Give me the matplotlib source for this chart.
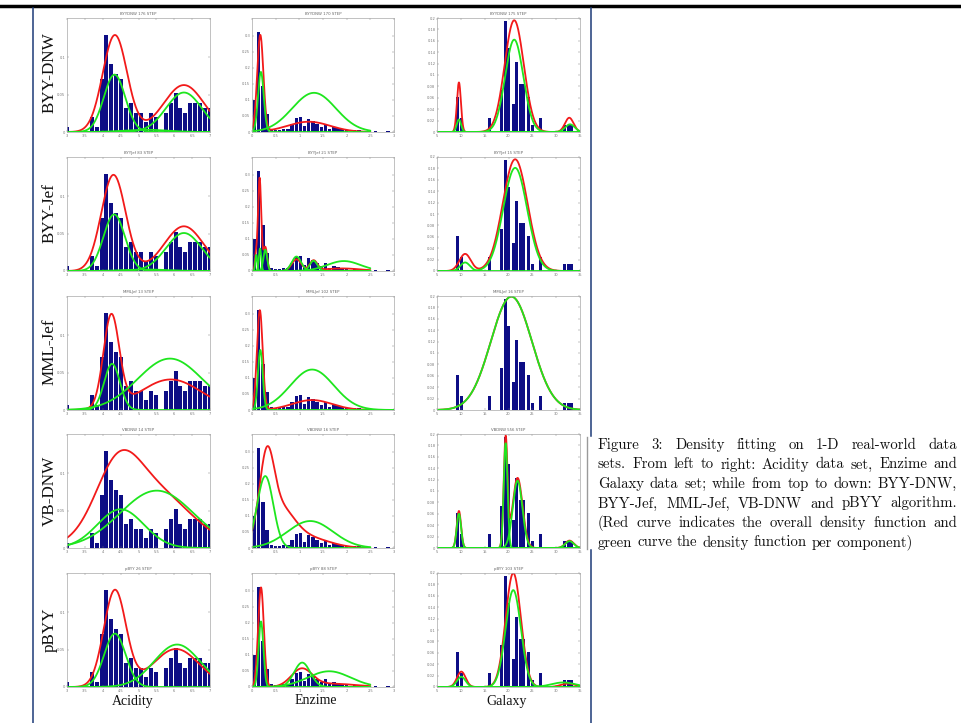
import numpy as np
import matplotlib
matplotlib.use('Agg')
import matplotlib.pyplot as plt
from matplotlib.lines import Line2D

# ---------------- data ----------------
METHODS = ['BYY-DNW', 'BYY-Jef', 'MML-Jef', 'VB-DNW', 'pBYY']
DATASETS = ['Acidity', 'Enzime', 'Galaxy']
PANEL_TITLES = [
    ['BYYDNW 176 STEP', 'BYYDNW 170 STEP', 'BYYDNW 175 STEP'],
    ['BYYJef 83 STEP', 'BYYJef 21 STEP', 'BYYJef 15 STEP'],
    ['MMLJef 13 STEP', 'MMLJef 102 STEP', 'MMLJef 16 STEP'],
    ['VBDNW 14 STEP', 'VBDNW 16 STEP', 'VBDNW 556 STEP'],
    ['pBYY 26 STEP', 'pBYY 88 STEP', 'pBYY 103 STEP'],
]

# histogram bars (normalised heights)
ACID_BIN_START = 2.931
ACID_BIN_WIDTH = 0.138
ACID_HEIGHTS = [0.0067, 0, 0, 0, 0, 0.020, 0.0067, 0.071, 0.130, 0.0915,
                0.078, 0.071, 0.0326, 0.039, 0.026, 0.026, 0.0134, 0.026, 0.020, 0,
                0.026, 0.039, 0.052, 0.0326, 0.026, 0.039, 0.039, 0.039, 0.0326, 0.0326]

ENZ_BIN_START = 0.009
ENZ_BIN_WIDTH = 0.0882
ENZ_HEIGHTS = [0.0985, 0.311, 0.143, 0.055, 0.010, 0.005, 0.005, 0.010, 0.010, 0.025,
               0.045, 0.048, 0.020, 0.040, 0.035, 0.025, 0.015, 0.025, 0.008, 0.015,
               0.012, 0.010, 0.005, 0, 0.005, 0.005, 0, 0.003, 0, 0.003, 0, 0, 0.003]

GAL_X = [9.35, 10.1, 16.0, 18.45, 19.3, 20.05, 20.95, 21.75, 22.5, 23.15,
         24.2, 24.95, 26.8, 31.8, 32.5, 33.2]
GAL_HEIGHTS = [0.0606, 0.0247, 0.0247, 0.0735, 0.195, 0.147, 0.0488, 0.122, 0.085, 0.085,
               0.0606, 0.012, 0.0247, 0.012, 0.012, 0.012]
GAL_BAR_WIDTH = 0.62

# fitted mixture components (amplitude, mean, sigma)
ACID_RED = {
    'BYY-DNW': [(0.130, 4.34, 0.34), (0.063, 6.27, 0.57)],
    'BYY-Jef': [(0.129, 4.30, 0.34), (0.060, 6.27, 0.55)],
    'MML-Jef': [(0.123, 4.24, 0.22), (0.041, 5.90, 0.85)],
    'VB-DNW': [(0.070, 4.40, 0.60), (0.080, 5.30, 1.10)],
    'pBYY': [(0.129, 4.34, 0.31), (0.051, 6.05, 0.65)],
}
ACID_GREEN = {
    'BYY-DNW': [(0.077, 4.33, 0.30), (0.053, 6.27, 0.50), (0.003, 5.2, 0.6)],
    'BYY-Jef': [(0.076, 4.32, 0.30), (0.051, 6.27, 0.50), (0.002, 5.2, 0.6)],
    'MML-Jef': [(0.062, 4.26, 0.22), (0.069, 5.88, 0.90)],
    'VB-DNW': [(0.052, 4.50, 0.65), (0.077, 5.51, 1.03)],
    'pBYY': [(0.0717, 4.34, 0.30), (0.057, 6.08, 0.64)],
}
ENZ_RED = {
    'BYY-DNW': [(0.300, 0.175, 0.065), (0.032, 1.20, 0.45)],
    'BYY-Jef': [(0.290, 0.160, 0.035), (0.040, 0.08, 0.02), (0.075, 0.28, 0.04),
                (0.036, 0.94, 0.10), (0.031, 1.30, 0.08), (0.008, 1.90, 0.40)],
    'MML-Jef': [(0.310, 0.165, 0.060), (0.031, 1.27, 0.42)],
    'VB-DNW': [(0.220, 0.31, 0.15), (0.120, 0.55, 0.32), (0.030, 1.20, 0.45)],
    'pBYY': [(0.310, 0.19, 0.060), (0.054, 1.05, 0.22), (0.010, 1.70, 0.50)],
}
ENZ_GREEN = {
    'BYY-DNW': [(0.187, 0.188, 0.060), (0.122, 1.31, 0.46)],
    'BYY-Jef': [(0.050, 0.09, 0.02), (0.070, 0.17, 0.025), (0.066, 0.28, 0.04),
                (0.045, 0.94, 0.10), (0.032, 1.30, 0.08), (0.031, 1.94, 0.35)],
    'MML-Jef': [(0.187, 0.176, 0.050), (0.126, 1.27, 0.46)],
    'VB-DNW': [(0.224, 0.28, 0.17), (0.084, 1.23, 0.48)],
    'pBYY': [(0.204, 0.19, 0.050), (0.076, 1.06, 0.17), (0.049, 1.63, 0.45)],
}
GAL_RED = {
    'BYY-DNW': [(0.087, 9.6, 0.42), (0.196, 21.2, 2.0), (0.025, 32.75, 0.9)],
    'BYY-Jef': [(0.030, 10.9, 1.2), (0.196, 21.4, 2.6)],
    'MML-Jef': [(0.199, 20.6, 4.3)],
    'VB-DNW': [(0.065, 9.6, 0.45), (0.190, 19.4, 0.40), (0.123, 21.9, 1.05), (0.013, 32.8, 0.9)],
    'pBYY': [(0.027, 10.1, 0.9), (0.200, 21.0, 1.6), (0.006, 32.5, 1.5)],
}
GAL_GREEN = {
    'BYY-DNW': [(0.022, 9.6, 0.45), (0.162, 21.2, 1.9), (0.0135, 32.9, 1.0)],
    'BYY-Jef': [(0.015, 10.9, 1.0), (0.181, 21.4, 2.5)],
    'MML-Jef': [(0.199, 20.6, 4.3)],
    'VB-DNW': [(0.060, 9.6, 0.45), (0.184, 19.4, 0.40), (0.118, 21.9, 1.0), (0.012, 32.8, 0.9)],
    'pBYY': [(0.018, 10.1, 0.9), (0.170, 21.0, 1.6), (0.008, 31.5, 2.5)],
}

ACID_XTICKS = [3, 3.5, 4, 4.5, 5, 5.5, 6, 6.5, 7]
ACID_XLABELS = ['3', '3.5', '4', '4.5', '5', '5.5', '6', '6.5', '7']
ACID_YTICKS = [0, 0.05, 0.1]
ACID_YLABELS = ['0', '0.05', '0.1']
ENZ_XTICKS = [0, 0.5, 1, 1.5, 2, 2.5, 3]
ENZ_XLABELS = ['0', '0.5', '1', '1.5', '2', '2.5', '3']
ENZ_YTICKS = [0, 0.05, 0.1, 0.15, 0.2, 0.25, 0.3]
ENZ_YLABELS = ['0', '0.05', '0.1', '0.15', '0.2', '0.25', '0.3']
GAL_XTICKS = [5, 10, 15, 20, 25, 30, 35]
GAL_XLABELS = ['5', '10', '15', '20', '25', '30', '35']
GAL_YTICKS = [0, 0.02, 0.04, 0.06, 0.08, 0.1, 0.12, 0.14, 0.16, 0.18, 0.2]
GAL_YLABELS = ['0', '0.02', '0.04', '0.06', '0.08', '0.1', '0.12', '0.14', '0.16', '0.18', '0.2']

CAPTION_LINES = [
    'Figure 3:  Density fitting on 1-D real-world data',
    'sets. From left to right: Acidity data set, Enzime and',
    'Galaxy data set; while from top to down: BYY-DNW,',
    'BYY-Jef, MML-Jef, VB-DNW and pBYY algorithm.',
    '(Red curve indicates the overall density function and',
    'green curve the density function per component)',
]

# ---------------- layout ----------------
W, H = 962, 723
fig = plt.figure(figsize=(W / 100, H / 100), dpi=100)
fig.patch.set_facecolor('white')


def fx(p):
    return p / W


def fy(p):
    return 1 - p / H


COL_X = [(67, 210), (252, 394), (437, 580)]
ROW_TOP = [18, 157, 296, 434, 573]
PANEL_H = 114

BAR_COLOR = '#0d0d85'
RED = '#f21a1a'
GREEN = '#1ee61e'
FRAME = '#a8a8a8'


def mixture(x, comps):
    y = np.zeros_like(x)
    for a, m, s in comps:
        y = y + a * np.exp(-0.5 * ((x - m) / s) ** 2)
    return y


for r, meth in enumerate(METHODS):
    for c, ds in enumerate(DATASETS):
        l, rr = COL_X[c]
        t = ROW_TOP[r]
        ax = fig.add_axes([fx(l), fy(t + PANEL_H), (rr - l) / W, PANEL_H / H])
        if ds == 'Acidity':
            centers = ACID_BIN_START + ACID_BIN_WIDTH * (np.arange(len(ACID_HEIGHTS)) + 0.5)
            ax.bar(centers, ACID_HEIGHTS, width=ACID_BIN_WIDTH * 0.82, color=BAR_COLOR, lw=0)
            xlim = (3, 7)
            ylim = (0, 0.153)
            xt, xl, yt, yl = ACID_XTICKS, ACID_XLABELS, ACID_YTICKS, ACID_YLABELS
            reds, greens = ACID_RED[meth], ACID_GREEN[meth]
        elif ds == 'Enzime':
            centers = ENZ_BIN_START + ENZ_BIN_WIDTH * (np.arange(len(ENZ_HEIGHTS)) + 0.5)
            ax.bar(centers, ENZ_HEIGHTS, width=ENZ_BIN_WIDTH * 0.82, color=BAR_COLOR, lw=0)
            xlim = (0, 3) if meth == 'MML-Jef' else (0, 2.5)
            ylim = (0, 0.355)
            xt, xl, yt, yl = ENZ_XTICKS, ENZ_XLABELS, ENZ_YTICKS, ENZ_YLABELS
            reds, greens = ENZ_RED[meth], ENZ_GREEN[meth]
        else:
            ax.bar(GAL_X, GAL_HEIGHTS, width=GAL_BAR_WIDTH, color=BAR_COLOR, lw=0)
            xlim = (5, 35)
            ylim = (0, 0.2)
            xt, xl, yt, yl = GAL_XTICKS, GAL_XLABELS, GAL_YTICKS, GAL_YLABELS
            reds, greens = GAL_RED[meth], GAL_GREEN[meth]

        xs = np.linspace(xlim[0], xlim[1], 600)
        ax.plot(xs, mixture(xs, reds), color=RED, lw=1.3, solid_capstyle='round')
        for comp in greens:
            ax.plot(xs, mixture(xs, [comp]), color=GREEN, lw=1.3, solid_capstyle='round')

        ax.set_xlim(*xlim)
        ax.set_ylim(*ylim)
        ax.set_xticks(xt)
        ax.set_xticklabels(xl)
        ax.set_yticks(yt)
        ax.set_yticklabels(yl)
        ax.tick_params(direction='in', length=1.5, width=0.3, labelsize=2.6,
                       colors='#777777', pad=1.2, top=True, right=True)
        for sp in ax.spines.values():
            sp.set_color(FRAME)
            sp.set_linewidth(0.5)
        ax.set_title(PANEL_TITLES[r][c], fontsize=2.8, color='#666666', pad=2)

# row labels
ROW_LABEL_Y = [73, 213, 352, 491, 630]
for name, yc in zip(METHODS, ROW_LABEL_Y):
    fig.text(fx(50), fy(yc), name, rotation=90, ha='center', va='center',
             fontsize=12.3, family='Liberation Serif', color='#111111')

# column labels
COL_LABEL_X = [133, 316, 507]
for name, xc in zip(DATASETS, COL_LABEL_X):
    fig.text(fx(xc), fy(701), name, ha='center', va='center',
             fontsize=10, family='Liberation Serif', color='#111111')

# page decorations
fig.add_artist(Line2D([0, 1], [fy(5.5), fy(5.5)], color='black', lw=2.5))
fig.add_artist(Line2D([fx(32.5), fx(32.5)], [fy(8), 0], color='#1d3b78', lw=1.1))
fig.add_artist(Line2D([fx(591), fx(591)], [fy(8), fy(436)], color='#1d3b78', lw=1.1))
fig.add_artist(Line2D([fx(587), fx(587)], [fy(437), fy(549)], color='#9a9a9a', lw=1.0))
fig.add_artist(Line2D([fx(591), fx(591)], [fy(550), 0], color='#1d3b78', lw=1.1))

# caption (justified)
renderer = fig.canvas.get_renderer()
CAP_FONT = 'cmr10'
probe = fig.text(0, 0, CAPTION_LINES[-1], fontsize=10, family=CAP_FONT)
wprobe = probe.get_window_extent(renderer).width
probe.remove()
cap_fs = 10 * 316.0 / wprobe

X0, X1 = 598, 957
BASELINES = [449, 468.5, 488, 507.5, 527, 546.5]
for i, (line, yb) in enumerate(zip(CAPTION_LINES, BASELINES)):
    words = line.split()
    arts = [fig.text(0, fy(yb), w, fontsize=cap_fs, family=CAP_FONT, va='baseline',
                     color='#111111') for w in words]
    widths = [a.get_window_extent(renderer).width for a in arts]
    if i < len(CAPTION_LINES) - 1:
        gap = (X1 - X0 - sum(widths)) / (len(words) - 1)
    else:
        gap = (913 - X0 - sum(widths)) / (len(words) - 1)
    x = X0
    for a, w in zip(arts, widths):
        a.set_x(fx(x))
        x += w + gap

fig.savefig('out.png', dpi=100, facecolor='white')
